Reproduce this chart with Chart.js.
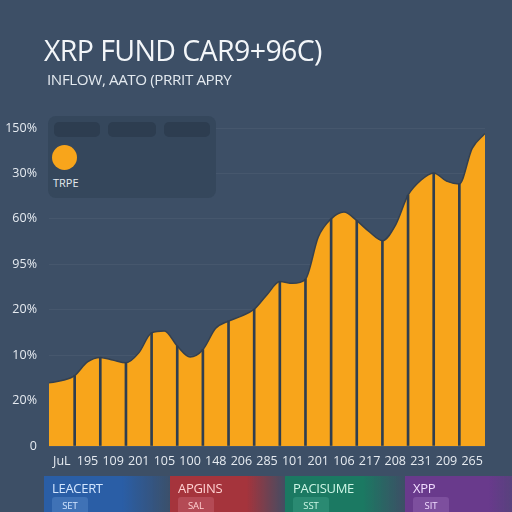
<!DOCTYPE html>
<html>
<head>
<meta charset="utf-8">
<script src="https://cdn.jsdelivr.net/npm/chart.js@4.4.1/dist/chart.umd.min.js"></script>
<style>
  html, body { margin: 0; padding: 0; }
  body { width: 512px; height: 512px; background: #3d4f66; position: relative; overflow: hidden; font-family: "Open Sans", "Noto Sans", sans-serif; }
  #wrap { position: absolute; left: 0; top: 0; width: 512px; height: 512px; }
  .title { position: absolute; left: 44px; top: 31px; font-size: 28.5px; color: #f3f6f9; letter-spacing: -0.6px; white-space: nowrap; }
  .sub { position: absolute; left: 47px; top: 69px; font-size: 15.2px; color: #e3e9ef; letter-spacing: -0.4px; white-space: nowrap; }
  .legend { position: absolute; left: 48px; top: 116px; width: 168px; height: 82px; background: #35475c; border-radius: 8px; }
  .pill { position: absolute; top: 6px; height: 15px; width: 46px; background: #2d3d50; border-radius: 5px; }
  .dot { position: absolute; left: 4px; top: 29px; width: 25px; height: 25px; border-radius: 50%; background: #f8a51b; }
  .lname { position: absolute; left: 5px; top: 59px; font-size: 11px; color: #e3e9ef; }
  .tag { position: absolute; top: 476px; height: 40px; }
  .tag .t { position: absolute; left: 8px; top: 3px; font-size: 13px; letter-spacing: -0.3px; }
  .tag .s { position: absolute; left: 8px; top: 21px; width: 36px; height: 18px; border-radius: 3px; font-size: 9.5px; text-align: center; line-height: 17px; }
</style>
</head>
<body>
<div id="wrap"><canvas id="myChart" width="512" height="512"></canvas></div>
<div class="title">XRP FUND CAR9+96C)</div>
<div class="sub">INFLOW, AATO (PRRIT APRY</div>
<div class="legend">
  <div class="pill" style="left:6px"></div>
  <div class="pill" style="left:60px;width:48px"></div>
  <div class="pill" style="left:116px"></div>
  <div class="dot"></div>
  <div class="lname">TRPE</div>
</div>
<div class="tag" style="left:44px;width:130px;background:linear-gradient(to right,#2a5ea6 0%,#2a5ea6 60%,rgba(42,94,166,0) 100%)">
  <div class="t" style="color:#d3e6ff">LEACERT</div><div class="s" style="background:#3f72b6;color:#d3e6ff">SET</div>
</div>
<div class="tag" style="left:170px;width:118px;background:linear-gradient(to right,#a5343c 0%,#a5343c 65%,rgba(165,52,60,0) 100%)">
  <div class="t" style="color:#ffd0d0">APGINS</div><div class="s" style="background:#b44a55;color:#ffd0d0">SAL</div>
</div>
<div class="tag" style="left:285px;width:120px;background:linear-gradient(to right,#1b7962 0%,#1b7962 65%,rgba(27,121,98,0) 100%)">
  <div class="t" style="color:#cdf6e6">PACISUME</div><div class="s" style="background:#2a8a72;color:#cdf6e6">SST</div>
</div>
<div class="tag" style="left:405px;width:120px;background:linear-gradient(to right,#693a8c 0%,#693a8c 70%,rgba(105,58,140,0.4) 100%)">
  <div class="t" style="color:#f0dcff">XPP</div><div class="s" style="background:#7d4f9e;color:#f0dcff">SIT</div>
</div>
<script>
// x labels under each column, y labels bottom to top
const xLabels = ['JuL', '195', '109', '201', '105', '100', '148', '206', '285', '101', '201', '106', '217', '208', '231', '209', '265'];
const yLabels = ['0', '20%', '10%', '20%', '95%', '60%', '30%', '150%'];

// curve height at the column edges (18) and column middles (17)
const edgeValues = [1.39, 1.55, 1.95, 1.83, 2.49, 2.20, 2.12, 2.75, 3.01, 3.62, 3.67, 5.00, 4.96, 4.52, 5.52, 6.01, 5.77, 6.88];
const midValues = [1.44, 1.85, 1.89, 2.05, 2.53, 1.96, 2.59, 2.86, 3.33, 3.58, 4.60, 5.15, 4.71, 4.85, 5.85, 5.83, 6.55];

const curve = [];
edgeValues.forEach(function(v, i) {
  curve.push({ x: i, y: v });
  if (i < midValues.length) curve.push({ x: i + 0.5, y: midValues[i] });
});
// dark dividers between columns
const dividers = edgeValues.slice(1, -1).map(function(v, i) {
  return { x: i + 1, y: v };
});

const tickFont = { family: 'Open Sans', size: 12.5 };

new Chart(document.getElementById('myChart'), {
  type: 'line',
  data: {
    datasets: [{
      type: 'bar',
      data: dividers,
      backgroundColor: '#2f3e50',
      barThickness: 2,
      order: 0,
    }, {
      data: curve,
      fill: 'origin',
      backgroundColor: '#f8a51b',
      borderColor: '#34404f',
      borderWidth: 1.5,
      pointRadius: 0,
      cubicInterpolationMode: 'monotone',
      order: 1,
    }],
  },
  options: {
    responsive: false,
    animation: false,
    layout: { padding: { left: 0, right: 27, top: 128, bottom: 35 } },
    plugins: { legend: { display: false }, tooltip: { enabled: false } },
    scales: {
      x: {
        type: 'linear',
        min: 0,
        max: 17,
        offset: false,
        grid: { display: false, drawTicks: false, offset: false },
        border: { display: false },
        afterBuildTicks: function(scale) {
          scale.ticks = xLabels.map(function(_, i) { return { value: i + 0.5 }; });
        },
        ticks: {
          autoSkip: false,
          maxRotation: 0,
          padding: 8,
          color: '#e6ebf1',
          font: tickFont,
          callback: function(v, i) { return xLabels[i]; },
        },
      },
      y: {
        min: 0,
        max: 7,
        afterFit: function(scale) { scale.width = 49; },
        grid: { color: 'rgba(255,255,255,0.05)', drawTicks: false },
        border: { display: false },
        ticks: {
          stepSize: 1,
          padding: 12,
          color: '#e6ebf1',
          font: tickFont,
          callback: function(v) { return yLabels[v]; },
        },
      },
    },
  },
});
</script>
</body>
</html>
